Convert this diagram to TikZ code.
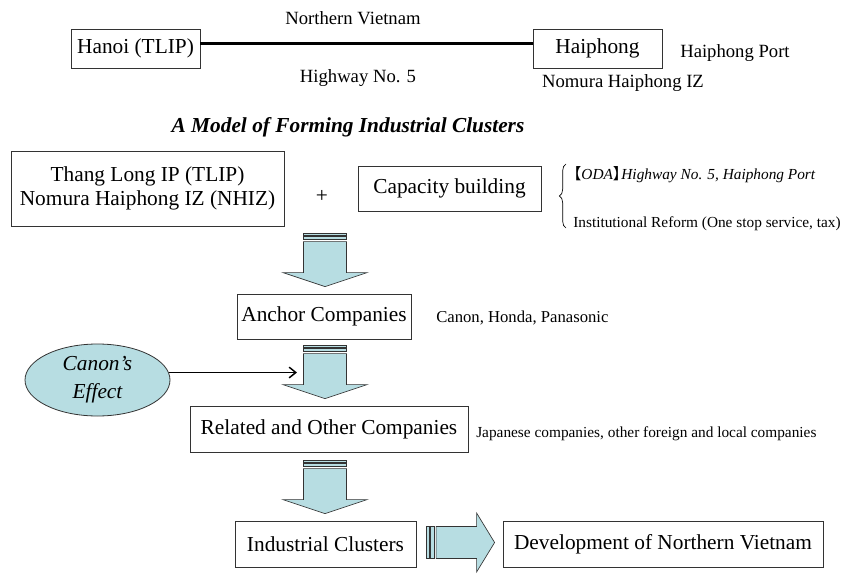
\documentclass[tikz,border=0pt]{standalone}
\usepackage{fontspec}
\setmainfont{Liberation Serif}
\newfontfamily\cjkfont{Noto Sans CJK SC}
\usetikzlibrary{calc,shapes.geometric,arrows.meta,decorations.pathreplacing}
\definecolor{arrowcyan}{RGB}{183,221,226}

\begin{document}
\begin{tikzpicture}[x=0.75pt,y=-0.75pt,
    box/.style={draw=black!80,line width=0.6pt,inner sep=2pt,align=center,
        font=\fontsize{16}{18}\selectfont},
    lbl/.style={inner sep=0pt,font=\fontsize{14}{16}\selectfont},
    note/.style={inner sep=0pt,anchor=west,font=\fontsize{11.5}{13}\selectfont},
    blockarrow/.style={fill=arrowcyan,draw=black!80,line width=0.5pt}]
    \useasboundingbox (0,0) rectangle (856,574);
    % the road from Hanoi to Haiphong
    \node[box,minimum width=96.75pt,minimum height=29.25pt] (hanoi) at (135.5,48.5) {Hanoi (TLIP)};
    \node[box,minimum width=96.75pt,minimum height=29.25pt] (haiphong) at (597.5,48.5) {Haiphong};
    \draw[line width=2.25pt] ($(hanoi.east)+(0,-4.5)$) -- ($(haiphong.west)+(0,-4.5)$);
    \node[lbl] (north) at (353,18) {Northern Vietnam};
    \node[lbl] (highway) at (358,78) {Highway No. 5};
    \node[lbl,anchor=west] (port) at (680,53) {Haiphong Port};
    \node[lbl] (nhiz) at (623,83) {Nomura Haiphong IZ};
    % the model
    \node[inner sep=0pt,font=\fontsize{16}{18}\bfseries\itshape] (title) at (348,127)
        {A Model of Forming Industrial Clusters};
    \node[box,minimum width=204.75pt,minimum height=56.25pt] (parks) at (147.5,188.5)
        {Thang Long IP (TLIP)\\Nomura Haiphong IZ (NHIZ)};
    \node[inner sep=0pt,font=\fontsize{16}{18}\selectfont] (plus) at (322,196) {+};
    \node[box,minimum width=137.25pt,minimum height=33.75pt] (capacity) at (449.5,188.5) {Capacity building};
    \draw[line width=0.5pt,decorate,decoration={brace,amplitude=5pt}] (566,228) -- (566,164);
    \node[note,font=\fontsize{11.5}{13}\itshape] (oda) at (572,175)
        {{\cjkfont\upshape\kern-.4em【}ODA{\cjkfont\upshape 】\kern-.45em}Highway No. 5, Haiphong Port};
    \node[note] (reform) at (573,224) {Institutional Reform (One stop service, tax)};
    \node[box,minimum width=130.5pt,minimum height=33.75pt] (anchor) at (324,316.5) {Anchor Companies};
    \node[note,font=\fontsize{12.5}{14}\selectfont] (brands) at (436,318) {Canon, Honda, Panasonic};
    \node[box,minimum width=208.5pt,minimum height=34.5pt] (related) at (329,429) {Related and Other Companies};
    \node[note] (others) at (476,434) {Japanese companies, other foreign and local companies};
    \node[box,minimum width=135.75pt,minimum height=34.5pt] (industrial) at (325.5,544) {Industrial Clusters};
    \node[box,minimum width=240pt,minimum height=34.5pt] (development) at (663,544) {Development of Northern Vietnam};
    \node[ellipse,draw=black!80,fill=arrowcyan,line width=0.6pt,inner sep=0pt,
        minimum width=108.75pt,minimum height=54pt,align=center,
        font=\fontsize{16}{21}\itshape] (canon) at (97.5,380) {Canon's\\Effect};
    % striped block arrows
    \coordinate (axis) at (325,0);
    \foreach \dst in {anchor,related,industrial}{
        \path (axis |- \dst.north) ++(0,-7) coordinate (tip);
        \draw[blockarrow] (tip) -- ++(-42,-14) -- ++(20.5,0) -- ++(0,-31) -- ++(43,0)
            -- ++(0,31) -- ++(20.5,0) -- cycle;
        \draw[blockarrow] ($(tip)+(-21.5,-47)$) rectangle ++(43,-3.5);
        \draw[blockarrow] ($(tip)+(-21.5,-51.5)$) rectangle ++(43,-2);
    }
    \path (development.west) ++(-8,-1.5) coordinate (htip);
    \draw[blockarrow] (htip) -- ++(-18,-29.5) -- ++(0,13.5) -- ++(-40.5,0) -- ++(0,32)
        -- ++(40.5,0) -- ++(0,13.5) -- cycle;
    \draw[blockarrow] ($(htip)+(-60,-16)$) rectangle ++(-4.5,32);
    \draw[blockarrow] ($(htip)+(-65.5,-16)$) rectangle ++(-2.5,32);
    % Canon pulls the others in
    \coordinate (effectend) at ($(axis)+(-28,0)$);
    \draw[line width=1.1pt,-{Straight Barb[length=5pt,width=8pt]}] (canon.6) -- (canon.6 -| effectend);
\end{tikzpicture}
\end{document}
